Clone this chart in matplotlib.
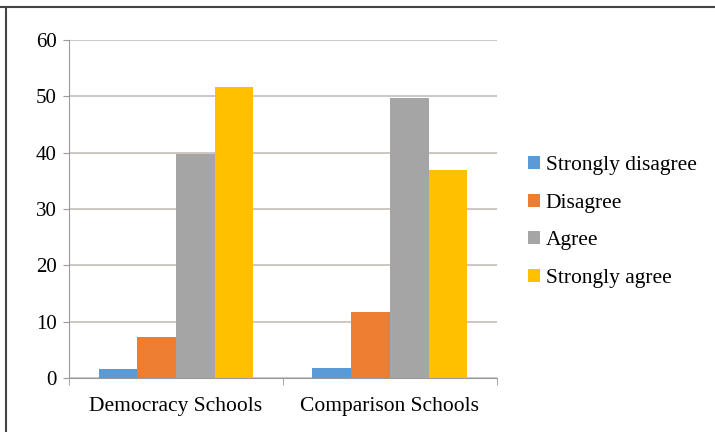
import matplotlib.pyplot as plt
import numpy as np
from matplotlib.lines import Line2D

schools = ['Democracy Schools', 'Comparison Schools']
responses = ['Strongly disagree', 'Disagree', 'Agree', 'Strongly agree']
strongly_disagree = [1.6, 1.8]
disagree = [7.3, 11.8]
agree = [39.8, 49.8]
strongly_agree = [51.7, 37.0]

colours = ['#5B9BD5', '#ED7D31', '#A5A5A5', '#FFC000']

plt.rcParams['font.family'] = ['Liberation Serif', 'DejaVu Serif']

fig = plt.figure(figsize=(7.15, 4.32), dpi=100, facecolor='white')
ax = fig.add_axes([0.0965, 0.125, 0.5985, 0.782])

x = np.arange(len(schools))
w = 0.181
series = [strongly_disagree, disagree, agree, strongly_agree]
for i, vals in enumerate(series):
    ax.bar(x + (i - 1.5) * w, vals, width=w, color=colours[i], label=responses[i], zorder=3)

ax.set_xlim(-0.5, 1.5)
ax.set_ylim(0, 60)
ax.set_yticks(range(0, 61, 10))
ax.yaxis.grid(True, color='#c4bdb9', linewidth=1.2, zorder=0)

# prettify
for s in ['right', 'top']:
    ax.spines[s].set_visible(False)
ax.spines['left'].set_color('#9a9a9a')
ax.spines['bottom'].set_color('#9a9a9a')
ax.tick_params(axis='y', length=4, color='#9a9a9a', labelsize=15, pad=5)
ax.set_xticks(x)
ax.set_xticklabels(schools, fontsize=15.5)
ax.tick_params(axis='x', length=0, pad=14)
ax.set_xticks([-0.5, 0.5, 1.5], minor=True)
ax.tick_params(axis='x', which='minor', length=5, color='#9a9a9a')

ax.legend(loc='center left', bbox_to_anchor=(0.712, 0.486), bbox_transform=fig.transFigure,
          frameon=False, fontsize=15.5, handlelength=0.55, handleheight=0.55,
          handletextpad=0.25, labelspacing=0.86)

# frame lines of the original figure box
fig.add_artist(Line2D([0, 1], [0.984, 0.984], color='#444444', linewidth=1.5))
fig.add_artist(Line2D([0.009, 0.009], [0, 0.984], color='#444444', linewidth=1.5))

plt.savefig('out.png', dpi=100)
